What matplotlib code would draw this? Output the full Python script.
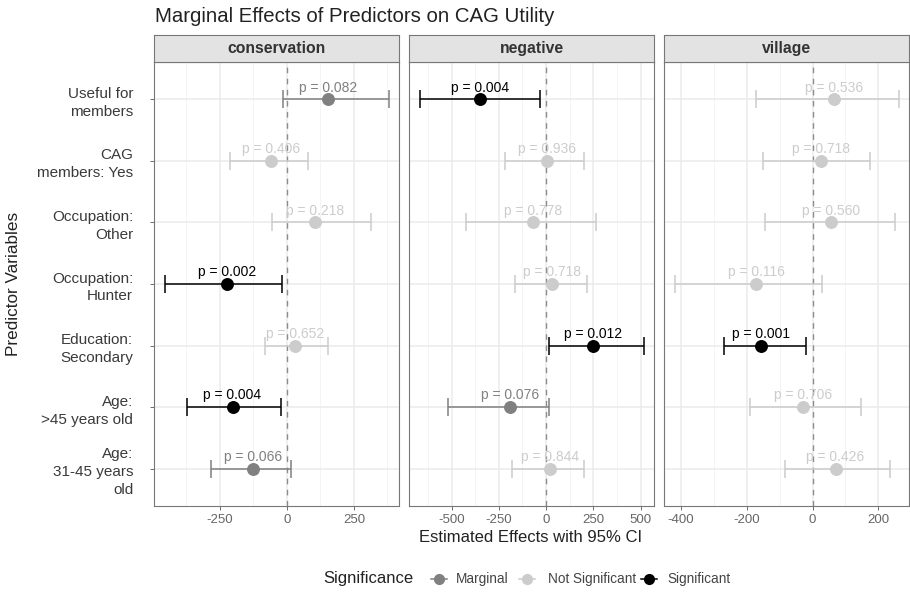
import matplotlib
matplotlib.use('Agg')
import matplotlib.pyplot as plt
from matplotlib.lines import Line2D

plt.rcParams['font.family'] = ['Liberation Sans', 'DejaVu Sans']

predictors = ["Useful for\nmembers", "CAG\nmembers: Yes", "Occupation:\nOther",
              "Occupation:\nHunter", "Education:\nSecondary", "Age:\n>45 years old",
              "Age:\n31-45 years\nold"]
panels = ["conservation", "negative", "village"]

cons_est = [152, -60, 103, -225, 29, -203, -126]
cons_low = [-16, -214, -55, -454, -82, -372, -285]
cons_high = [381, 77, 312, -20, 154, -22, 16]
cons_p = ["0.082", "0.406", "0.218", "0.002", "0.652", "0.004", "0.066"]

neg_est = [-347, 5, -70, 30, 248, -192, 23]
neg_low = [-667, -217, -424, -165, 14, -521, -181]
neg_high = [-33, 201, 263, 215, 516, 18, 203]
neg_p = ["0.004", "0.936", "0.778", "0.718", "0.012", "0.076", "0.844"]

vil_est = [64, 25, 55, -171, -155, -28, 70]
vil_low = [-171, -150, -144, -417, -268, -189, -84]
vil_high = [262, 176, 251, 28, -21, 147, 234]
vil_p = ["0.536", "0.718", "0.560", "0.116", "0.001", "0.706", "0.426"]

xticks_cons = [-250, 0, 250]
xticks_neg = [-500, -250, 0, 250, 500]
xticks_vil = [-400, -200, 0, 200]

sig_levels = ["Marginal", "Not Significant", "Significant"]
sig_colors = {"Marginal": "#808080", "Not Significant": "#cccccc", "Significant": "#000000"}


def sig_of(p):
    v = float(p)
    if v < 0.05:
        return "Significant"
    if v < 0.1:
        return "Marginal"
    return "Not Significant"


W, H = 910, 595
fig = plt.figure(figsize=(W / 100, H / 100), dpi=100)

panel_x = [(154, 399), (409, 654), (664, 909)]
top_px, bot_px = 62.3, 505.7
strip_top = 35

data = [
    (cons_est, cons_low, cons_high, cons_p, xticks_cons, (-496, 418)),
    (neg_est, neg_low, neg_high, neg_p, xticks_neg, (-725, 571)),
    (vil_est, vil_low, vil_high, vil_p, xticks_vil, (-451, 293)),
]

n = len(predictors)
ypos = [n - i for i in range(n)]

for k, (name, (x0, x1), (est, low, high, pv, xt, xl)) in enumerate(zip(panels, panel_x, data)):
    ax = fig.add_axes([x0 / W, 1 - bot_px / H, (x1 - x0) / W, (bot_px - top_px) / H])
    ax.set_xlim(*xl)
    ax.set_ylim(0.4, n + 0.6)
    ax.set_facecolor('white')
    step = xt[1] - xt[0]
    minors = [t - step / 2 for t in xt] + [xt[-1] + step / 2]
    for m in minors:
        if xl[0] < m < xl[1]:
            ax.axvline(m, color='#f2f2f2', lw=0.6, zorder=0)
    for t in xt:
        ax.axvline(t, color='#ebebeb', lw=1.1, zorder=0)
    for y in ypos:
        ax.axhline(y, color='#ebebeb', lw=1.1, zorder=0)
    ax.axvline(0, color='#8c8c8c', lw=1.0, ls=(0, (4, 4)), zorder=1)

    for i in range(n):
        s = sig_of(pv[i])
        c = sig_colors[s]
        z = 3 if s == "Significant" else (2.5 if s == "Marginal" else 2)
        ax.errorbar(est[i], ypos[i], xerr=[[est[i] - low[i]], [high[i] - est[i]]],
                    fmt='o', color=c, ecolor=c, elinewidth=1.1, capsize=6.5,
                    capthick=1.1, markersize=8.3, zorder=z)
        ax.text(est[i], ypos[i] + 0.19, "p = " + pv[i], color=c, ha='center',
                va='center', fontsize=10, zorder=z)

    ax.set_xticks(xt)
    ax.set_xticklabels([str(t) for t in xt])
    ax.set_yticks(ypos)
    if k == 0:
        ax.set_yticklabels(predictors, fontsize=11, color='#3a3a3a', linespacing=1.35)
    else:
        ax.set_yticklabels([])
    ax.tick_params(axis='x', labelsize=9.5, labelcolor='#666666', color='#555555',
                   length=3, width=0.6, pad=3)
    ax.tick_params(axis='y', color='#555555', width=0.6, length=3 if k == 0 else 0, pad=12)
    for sp in ax.spines.values():
        sp.set_color('#777777')
        sp.set_linewidth(0.8)

    sax = fig.add_axes([x0 / W, 1 - top_px / H, (x1 - x0) / W, (top_px - strip_top) / H])
    sax.set_xticks([])
    sax.set_yticks([])
    sax.set_facecolor('#e3e3e3')
    for sp in sax.spines.values():
        sp.set_color('#777777')
        sp.set_linewidth(0.8)
    sax.text(0.5, 0.5, name, ha='center', va='center', fontsize=11.3, fontweight='bold',
             color='#333333', transform=sax.transAxes)

fig.text(155 / W, 1 - 16 / H, "Marginal Effects of Predictors on CAG Utility",
         fontsize=14.7, ha='left', va='center', color='#222222')
fig.text(14 / W, 1 - 284 / H, "Predictor Variables", rotation=90, fontsize=12.3,
         ha='center', va='center', color='#222222')
fig.text(531 / W, 1 - 537 / H, "Estimated Effects with 95% CI", fontsize=12,
         ha='center', va='center', color='#222222')

# legend drawn in an overlay with pixel coordinates
lax = fig.add_axes([0, 0, 1, 1], facecolor='none')
lax.set_xlim(0, W)
lax.set_ylim(H, 0)
lax.axis('off')
ly = 579
lax.text(323, ly, "Significance", fontsize=12, ha='left', va='center', color='#222222')
leg_marker_x = [439, 527, 649]
leg_text_x = [456, 548, 667]
for s, mx, tx in zip(sig_levels, leg_marker_x, leg_text_x):
    c = sig_colors[s]
    lax.add_line(Line2D([mx - 8, mx + 8], [ly, ly], color=c, lw=1.1))
    lax.add_line(Line2D([mx], [ly], color=c, marker='o', markersize=7))
    lax.text(tx, ly, s, fontsize=9.8, ha='left', va='center', color='#444444')

fig.savefig("out.png", dpi=100)
